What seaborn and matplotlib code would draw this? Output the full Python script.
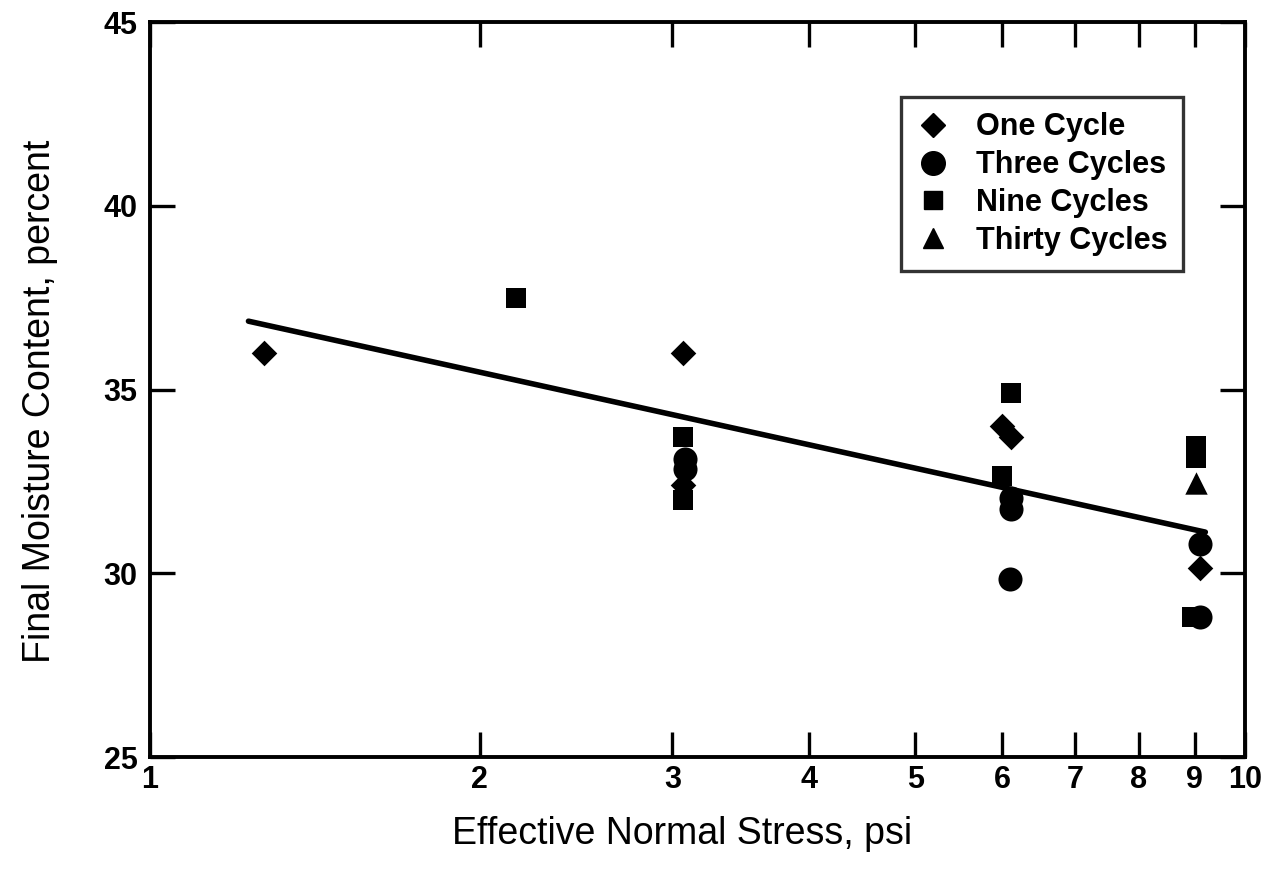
import matplotlib
matplotlib.use("Agg")
import matplotlib.pyplot as plt
import seaborn as sns
import pandas as pd
import numpy as np
from matplotlib.lines import Line2D

# ---- data ----
one_x = [1.27, 3.07, 6.0, 6.12, 3.07, 9.1]
one_y = [36.0, 36.0, 34.0, 33.7, 32.4, 30.15]
three_x = [3.08, 3.08, 6.12, 6.12, 6.1, 9.1, 9.1]
three_y = [33.1, 32.85, 32.05, 31.75, 29.85, 30.8, 28.8]
nine_x = [2.16, 3.07, 3.07, 6.12, 6.0, 9.02, 9.02, 8.95]
nine_y = [37.5, 33.7, 32.0, 34.9, 32.65, 33.45, 33.15, 28.8]
thirty_x = [9.03]
thirty_y = [32.45]

fit_x = [1.23, 9.2]
fit_y = [36.86, 31.12]

series_names = ["One Cycle", "Three Cycles", "Nine Cycles", "Thirty Cycles"]
x_ticks = [1, 2, 3, 4, 5, 6, 7, 8, 9, 10]
y_ticks = [25, 30, 35, 40, 45]

sns.set_theme(style="white")
plt.rcParams["font.family"] = ["Liberation Sans", "DejaVu Sans"]
plt.rcParams["text.color"] = "black"
plt.rcParams["axes.labelcolor"] = "black"
plt.rcParams["xtick.color"] = "black"
plt.rcParams["ytick.color"] = "black"

fig = plt.figure(figsize=(12.79, 8.82), dpi=100)
ax = fig.add_axes([0.1173, 0.1417, 0.8561, 0.8333])

series = [
    (one_x, one_y, "D", 170),
    (three_x, three_y, "o", 300),
    (nine_x, nine_y, "s", 200),
    (thirty_x, thirty_y, "^", 260),
]
for name, (xs, ys, mk, s) in zip(series_names, series):
    df = pd.DataFrame({"x": xs, "y": ys})
    sns.scatterplot(data=df, x="x", y="y", marker=mk, s=s, color="black",
                    edgecolor="black", linewidth=0, ax=ax, legend=False, zorder=3)

sns.lineplot(x=fit_x, y=fit_y, color="black", linewidth=4.0, ax=ax,
             legend=False, zorder=2, solid_capstyle="round")

ax.set_xscale("log")
ax.set_xlim(1, 10)
ax.set_ylim(25, 45)
ax.set_xticks(x_ticks)
ax.set_xticklabels([str(t) for t in x_ticks])
ax.xaxis.set_minor_locator(matplotlib.ticker.NullLocator())
ax.set_yticks(y_ticks)
ax.set_yticklabels([str(t) for t in y_ticks])

ax.tick_params(axis="both", which="major", direction="in", length=18, width=2.4,
               top=True, right=True, bottom=True, left=True, color="black",
               labelsize=22)
ax.tick_params(axis="x", pad=6)
ax.tick_params(axis="y", pad=9)
for lab in ax.get_xticklabels() + ax.get_yticklabels():
    lab.set_fontweight("bold")

for sp in ax.spines.values():
    sp.set_linewidth(2.8)
    sp.set_color("black")

ax.set_xlabel("Effective Normal Stress, psi", fontsize=27, labelpad=15)
ax.set_ylabel("Final Moisture Content, percent", fontsize=27, labelpad=33)
ax.xaxis.label.set_x(0.486)
ax.yaxis.label.set_y(0.484)

handles = [
    Line2D([], [], marker="D", color="black", linestyle="none", markersize=12),
    Line2D([], [], marker="o", color="black", linestyle="none", markersize=17),
    Line2D([], [], marker="s", color="black", linestyle="none", markersize=13),
    Line2D([], [], marker="^", color="black", linestyle="none", markersize=14),
]
leg = ax.legend(handles, series_names, loc="upper right",
                bbox_to_anchor=(0.943, 0.898), frameon=True, fancybox=False,
                fontsize=22, handletextpad=0.83, borderpad=0.5, labelspacing=0.26,
                handlelength=1.1, borderaxespad=0)
leg.get_frame().set_edgecolor("black")
leg.get_frame().set_linewidth(2.4)
for t in leg.get_texts():
    t.set_fontweight("bold")

fig.savefig("out.png", dpi=100)
